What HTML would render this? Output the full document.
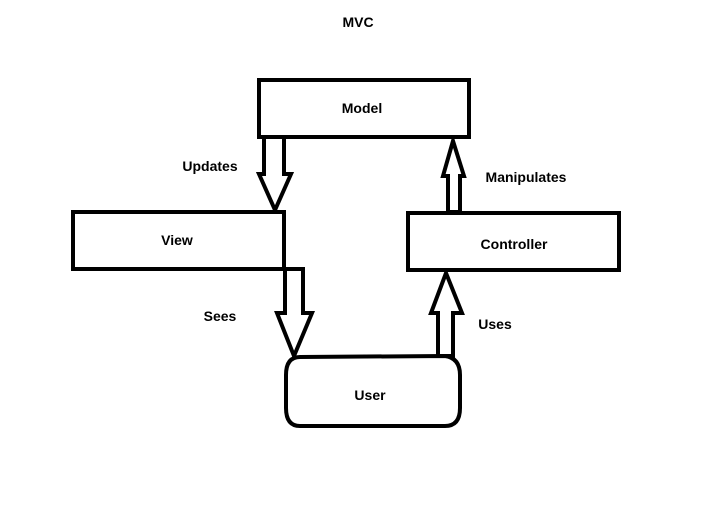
<!DOCTYPE html>
<html><head><style>body{margin:0;background:#fff}svg{display:block}text{font-family:"Liberation Sans",sans-serif;font-weight:bold;font-size:14px}</style></head>
<body>
<svg width="717" height="527" viewBox="0 0 717 527">
<rect width="717" height="527" fill="#fff"/>
<g fill="#fff" stroke="#000" stroke-width="4" stroke-linejoin="miter">
<polygon points="264,137 284,137 284,174 291,174 275,210 259,174 264,174"/>
<polygon points="285,269 303,269 303,313 312,313 294,356 277,313 285,313"/>
<polygon points="438,356 453,356 453,313 462,313 446,273 431,313 438,313"/>
<polygon points="448,212 460,212 460,176 464,176 453,141 443,176 448,176"/>
<rect x="259" y="80" width="210" height="57"/>
<rect x="73" y="212" width="211" height="57"/>
<rect x="408" y="213" width="211" height="57"/>
<path d="M300,357 L445,356 Q460,358 460,375 L460,408 Q460,426 445,426 L300,426 Q286,426 286,408 L286,375 Q286,357 300,357 Z"/>
</g>
<g text-anchor="middle" fill="#000">
<text x="358" y="27">MVC</text>
<text x="362" y="113">Model</text>
<text x="210" y="171">Updates</text>
<text x="177" y="245">View</text>
<text x="514" y="249">Controller</text>
<text x="526" y="182">Manipulates</text>
<text x="220" y="321">Sees</text>
<text x="495" y="329">Uses</text>
<text x="370" y="400">User</text>
</g>
</svg>
</body></html>
